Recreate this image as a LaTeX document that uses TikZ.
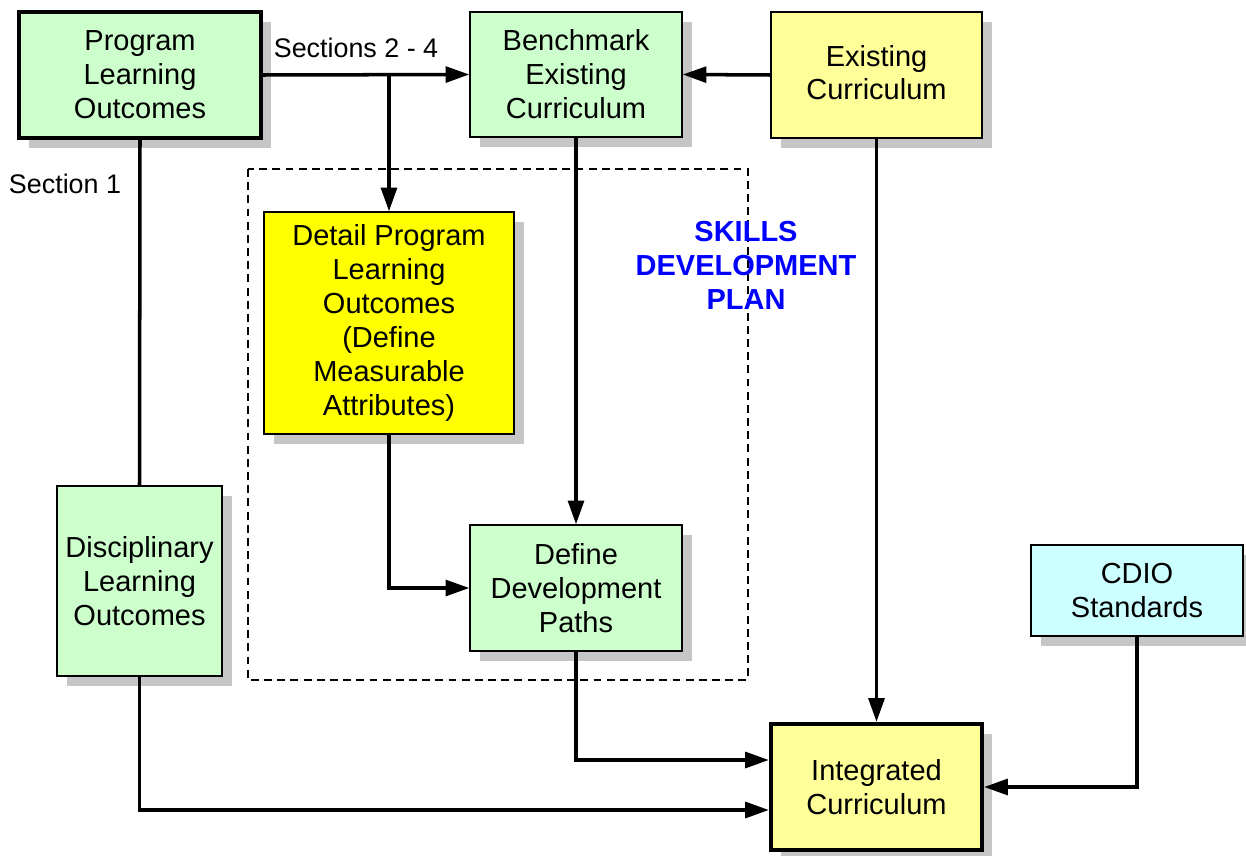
\documentclass[tikz,border=0pt]{standalone}
\usepackage{fontspec}
\setmainfont{Liberation Sans}
\usepackage{tikz}
\usetikzlibrary{arrows.meta, shadows}

\definecolor{boxgreen}{HTML}{CCFFCC}
\definecolor{paleyellow}{HTML}{FFFF99}
\definecolor{brightyellow}{HTML}{FFFF00}
\definecolor{palecyan}{HTML}{CCFFFF}

\tikzset{
    box/.style={draw, line width=0.8pt, align=center, inner sep=2pt,
        font=\fontsize{16.5}{19.3}\selectfont,
        drop shadow={shadow xshift=0.2cm, shadow yshift=-0.2cm, fill=gray!45, opacity=1}},
    thickbox/.style={box, line width=2.4pt},
    conn/.style={line width=2pt, -{Triangle[length=13.5pt, width=9pt]}},
    plain/.style={line width=2pt}
}

\begin{document}
\begin{tikzpicture}[x=0.02cm, y=-0.02cm]
        \useasboundingbox (0,0) rectangle (1246,855);

        % dashed frame of the plan
        \draw [dash pattern=on 4.5pt off 3pt, line width=0.8pt] (248,169) rectangle (748,680);
        \node [text=blue, align=center, font=\fontsize{16.5}{19.3}\bfseries] (plan) at (746,265) {SKILLS\\DEVELOPMENT\\PLAN};

        \node [thickbox, fill=boxgreen, minimum width=4.84cm, minimum height=2.52cm] (plo) at (140,75) {Program\\Learning\\Outcomes};
        \node [box, fill=boxgreen, minimum width=4.24cm, minimum height=2.5cm] (bench) at (576,74.5) {Benchmark\\Existing\\Curriculum};
        \node [box, fill=paleyellow, minimum width=4.22cm, minimum height=2.52cm, text depth=0.1cm] (exist) at (876.5,75) {Existing\\Curriculum};
        \node [box, fill=brightyellow, minimum width=5cm, minimum height=4.44cm] (detail) at (389,323) {Detail Program\\Learning\\Outcomes\\(Define\\Measurable\\Attributes)};
        \node [box, fill=boxgreen, minimum width=3.3cm, minimum height=3.8cm] (disc) at (139.5,581) {Disciplinary\\Learning\\Outcomes};
        \node [box, fill=boxgreen, minimum width=4.24cm, minimum height=2.52cm] (paths) at (576,588) {Define\\Development\\Paths};
        \node [box, fill=palecyan, minimum width=4.24cm, minimum height=1.82cm] (cdio) at (1137,590.5) {CDIO\\Standards};
        \node [thickbox, fill=paleyellow, minimum width=4.22cm, minimum height=2.52cm] (integ) at (876.5,787) {Integrated\\Curriculum};

        \node [font=\fontsize{15.3}{18}\selectfont] (sec24) at (356,48) {Sections 2 - 4};
        \node [font=\fontsize{15.3}{18}\selectfont] (sec1) at (65,184) {Section 1};

        \draw [conn] (plo.east) -- (bench.west);
        \draw [conn] (detail.north |- plo.east) -- (detail.north);
        \draw [conn] (exist.west) -- (bench.east);
        \draw [plain] (plo.south) -- (disc.north);
        \draw [conn] (bench.south) -- (paths.north);
        \draw [conn] (detail.south) |- (paths.west);
        \draw [conn] (exist.south) -- (integ.north);
        \draw [conn] (paths.south) |- ([yshift=0.54cm]integ.west);
        \draw [conn] (disc.south) |- ([yshift=-0.46cm]integ.west);
        \draw [conn] (cdio.south) |- (integ.east);
    \end{tikzpicture}
\end{document}
